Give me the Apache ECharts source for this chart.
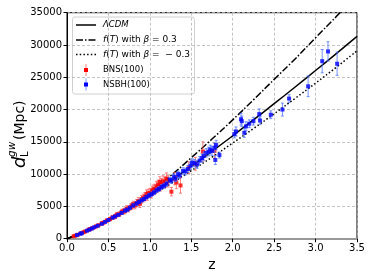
<!DOCTYPE html>
<html><head><meta charset="utf-8">
<script src="https://cdn.jsdelivr.net/npm/echarts@6/dist/echarts.min.js"></script>
<style>html,body{margin:0;padding:0;background:#fff}#c{width:374px;height:280px}</style>
</head><body><div id="c"></div>
<script>
// ---- data ----
const zGrid = [0,0.25,0.5,0.75,1,1.25,1.5,1.75,2,2.25,2.5,2.75,3,3.25,3.5];
const lcdm  = [0,1300,2918,4769,6792,8945,11199,13535,15938,18398,20906,23457,26047,28670,31322];
const betaPos = [0,1310,3005,5000,7270,9750,12540,15430,18400,21500,24670,27800,31130,34400,37900];
const betaNeg = [0,1290,2860,4600,6520,8500,10530,12620,14820,17050,19340,21700,24090,26550,29100];

const bnsZ = [0.08,0.10,0.13,0.17,0.20,0.22,0.26,0.28,0.31,0.35,0.38,0.42,0.44,0.48,0.52,0.55,0.58,0.60,0.63,0.66,0.68,0.70,0.72,0.74,0.77,0.79,0.80,0.82,0.84,0.86,0.88,0.90,0.92,0.94,0.96,0.97,0.98,1.00,1.02,1.03,1.04,1.06,1.08,1.09,1.10,1.12,1.13,1.14,1.16,1.18,1.20,1.22,1.26,1.30,1.32,1.37,1.47,1.55,1.64,1.78];
const bnsD = [380,460,610,850,1010,1120,1380,1500,1650,1900,2080,2380,2480,2800,3050,3300,3420,3700,3800,4150,4230,4300,4650,4600,4950,5100,5300,5150,5500,5800,5400,6100,6300,6500,6900,6600,7000,7100,7000,7400,7600,7700,8100,7900,8300,8800,8200,8500,8900,8700,9300,8900,7280,9300,8700,8250,11000,11600,13500,13600];
const bnsE = [40,50,60,80,90,100,120,130,150,170,190,220,230,260,290,310,330,350,370,400,410,420,450,460,480,500,510,520,540,560,570,600,610,630,650,660,670,690,700,710,720,740,760,770,780,800,810,820,840,860,880,900,650,950,950,1200,900,1000,1500,1200];

const nsbhZ = [0.12,0.16,0.18,0.24,0.27,0.30,0.33,0.37,0.42,0.46,0.50,0.55,0.58,0.62,0.66,0.70,0.73,0.76,0.80,0.84,0.87,0.90,0.93,0.96,0.99,1.02,1.05,1.08,1.11,1.14,1.17,1.20,1.24,1.26,1.29,1.31,1.34,1.36,1.40,1.43,1.46,1.49,1.51,1.54,1.57,1.60,1.63,1.65,1.68,1.71,1.73,1.75,1.78,1.79,1.80,1.84,2.02,2.04,2.10,2.11,2.14,2.16,2.20,2.25,2.32,2.33,2.46,2.60,2.68,2.91,3.08,3.15,3.26];
const nsbhD = [560,760,850,1230,1400,1580,1780,2000,2300,2600,2900,3250,3450,3700,4000,4350,4500,4800,5150,5450,5700,5950,6150,6450,6700,6900,7150,7500,7700,8000,8200,8500,9100,9000,9600,9300,10000,9800,10500,10400,10800,11300,11800,11700,11500,12100,12500,12800,13300,13500,13800,13600,14100,12200,14500,12950,16200,16600,18500,18200,16400,17400,17800,18200,19300,18300,19200,20000,21700,23600,27500,29000,27100];
const nsbhE = [30,40,45,60,70,80,90,100,110,130,150,160,170,180,200,210,220,230,250,260,270,290,300,310,320,330,340,350,370,380,390,400,420,430,450,460,480,490,500,520,540,560,570,580,600,610,620,640,650,670,680,700,720,700,730,450,600,700,900,800,700,700,600,600,800,600,600,1000,600,1600,1800,1500,1800];

const xTicks = [0,0.5,1,1.5,2,2.5,3,3.5];
const yTicks = [0,5000,10000,15000,20000,25000,30000,35000];

// ---- build ----
const pairs = (xs, ys) => xs.map((x,i)=>[x, ys[i]]);
const triples = (xs, ys, es) => xs.map((x,i)=>[x, ys[i], es[i]]);

function errRender(color){
  return function(params, api){
    const x = api.value(0), y = api.value(1), e = api.value(2);
    const t = api.coord([x, y+e]), b = api.coord([x, y-e]);
    const w = 1.5, st = {stroke: color, lineWidth: 1};
    return {type:'group', children:[
      {type:'line', shape:{x1:t[0],y1:t[1],x2:b[0],y2:b[1]}, style:st},
      {type:'line', shape:{x1:t[0]-w,y1:t[1],x2:t[0]+w,y2:t[1]}, style:st},
      {type:'line', shape:{x1:b[0]-w,y1:b[1],x2:b[0]+w,y2:b[1]}, style:st}
    ]};
  };
}

const FONT = 'DejaVu Sans';
const chart = echarts.init(document.getElementById('c'), null, {renderer:'canvas'});
const lx0 = 76, lx1 = 96, tx = 103;
const rows = [25, 40, 54.5, 70, 84.5];
const legFont = 8.5;
const mathFont = 9;
chart.setOption({
  animation: false,
  textStyle: {fontFamily: FONT},
  grid: {left: 67, right: 17, top: 12.7, bottom: 41.3, show: true, borderColor: '#000', borderWidth: 1, backgroundColor: 'transparent'},
  xAxis: {
    type: 'value', min: 0, max: 3.5, interval: 0.5,
    name: 'z', nameLocation: 'middle', nameGap: 17,
    nameTextStyle: {fontSize: 14, color: '#000', fontFamily: FONT},
    axisLine: {show: true, lineStyle: {color: '#9a9a9a', width: 2}},
    axisTick: {show: true, inside: false, length: 3.5, lineStyle: {color: '#000'}},
    axisLabel: {fontSize: 10, color: '#000', margin: 5, fontFamily: FONT,
      formatter: v => xTicks.includes(v) ? v.toFixed(1) : ''},
    splitLine: {show: true, lineStyle: {color: '#b5b5b5', type: [3,2], width: 0.8}}
  },
  yAxis: {
    type: 'value', min: 0, max: 35000, interval: 5000,
    axisLine: {show: true, lineStyle: {color: '#000', width: 1}},
    axisTick: {show: true, inside: false, length: 3.5, lineStyle: {color: '#000'}},
    axisLabel: {fontSize: 10, color: '#000', margin: 5, fontFamily: FONT,
      formatter: v => yTicks.includes(v) ? String(v) : ''},
    splitLine: {show: true, lineStyle: {color: '#b5b5b5', type: [3,2], width: 0.8}}
  },
  series: [
    {type:'line', data: pairs(zGrid, lcdm), smooth: true, symbol:'none', clip: true,
      lineStyle:{color:'#000', width:1.5}, z: 3},
    {type:'line', data: pairs(zGrid, betaPos), smooth: true, symbol:'none', clip: true,
      lineStyle:{color:'#000', width:1.5, type:[7,2,1.5,2]}, z: 3},
    {type:'line', data: pairs(zGrid, betaNeg), smooth: true, symbol:'none', clip: true,
      lineStyle:{color:'#000', width:1.5, type:[1.5,2.2]}, z: 3},
    {type:'custom', data: triples(bnsZ, bnsD, bnsE), renderItem: errRender('rgba(250,90,90,0.75)'),
      encode:{x:0, y:1}, z: 4},
    {type:'scatter', data: pairs(bnsZ, bnsD), symbol:'rect', symbolSize:4,
      itemStyle:{color:'#ff0000'}, z: 5},
    {type:'custom', data: triples(nsbhZ, nsbhD, nsbhE), renderItem: errRender('rgba(70,110,255,0.75)'),
      encode:{x:0, y:1}, z: 6},
    {type:'scatter', data: pairs(nsbhZ, nsbhD), symbol:'rect', symbolSize:4,
      itemStyle:{color:'#0000ff'}, z: 7}
  ],
  graphic: [
    // y-axis title
    {type:'group', x: 20, y: 128, rotation: Math.PI/2, z: 100, children: [
      {type:'text', x:-40, y:0, style:{text:'d', font:'italic 18px "DejaVu Sans"', fill:'#000', verticalAlign:'middle', align:'left'}},
      {type:'text', x:-29, y:5, style:{text:'L', font:'10px "DejaVu Sans"', fill:'#000', verticalAlign:'middle', align:'left'}},
      {type:'text', x:-29, y:-7.5, style:{text:'gw', font:'italic 10.5px "DejaVu Sans"', fill:'#000', verticalAlign:'middle', align:'left'}},
      {type:'text', x:-12, y:0, style:{text:'(Mpc)', font:'14px "DejaVu Sans"', fill:'#000', verticalAlign:'middle', align:'left'}}
    ]},
    // legend
    {type:'group', z: 100, children: [
      {type:'rect', shape:{x:72.5, y:17, width:122, height:77, r:2.5},
        style:{fill:'rgba(255,255,255,0.85)', stroke:'#d0d0d0', lineWidth:1}},
      {type:'line', shape:{x1:lx0,y1:rows[0],x2:lx1,y2:rows[0]}, style:{stroke:'#000', lineWidth:1.5}},
      {type:'line', shape:{x1:lx0,y1:rows[1],x2:lx1,y2:rows[1]}, style:{stroke:'#000', lineWidth:1.5, lineDash:[7,2,1.5,2]}},
      {type:'line', shape:{x1:lx0,y1:rows[2],x2:lx1,y2:rows[2]}, style:{stroke:'#000', lineWidth:1.5, lineDash:[1.5,2.2]}},
      {type:'line', shape:{x1:86,y1:rows[3]-6,x2:86,y2:rows[3]+6}, style:{stroke:'rgba(250,90,90,0.75)', lineWidth:1}},
      {type:'rect', shape:{x:84, y:rows[3]-2, width:4, height:4}, style:{fill:'#ff0000'}},
      {type:'line', shape:{x1:86,y1:rows[4]-6,x2:86,y2:rows[4]+6}, style:{stroke:'rgba(70,110,255,0.75)', lineWidth:1}},
      {type:'rect', shape:{x:84, y:rows[4]-2, width:4, height:4}, style:{fill:'#0000ff'}},
      {type:'text', x:tx, y:rows[0], style:{text:'ΛCDM', font:'italic '+legFont+'px "DejaVu Sans"', fill:'#000', verticalAlign:'middle'}},
      {type:'text', x:tx, y:rows[1], style:{text:'{i|f}({i|T}) with {i|β} = 0.3', fill:'#000', verticalAlign:'middle',
        font: mathFont+'px "DejaVu Sans"', rich:{i:{fontStyle:'italic', fontSize:mathFont, fontFamily:FONT}}}},
      {type:'text', x:tx, y:rows[2], style:{text:'{i|f}({i|T}) with {i|β} =  \u2212 0.3', fill:'#000', verticalAlign:'middle',
        font: mathFont+'px "DejaVu Sans"', rich:{i:{fontStyle:'italic', fontSize:mathFont, fontFamily:FONT}}}},
      {type:'text', x:tx, y:rows[3], style:{text:'BNS(100)', font:legFont+'px "DejaVu Sans"', fill:'#000', verticalAlign:'middle'}},
      {type:'text', x:tx, y:rows[4], style:{text:'NSBH(100)', font:legFont+'px "DejaVu Sans"', fill:'#000', verticalAlign:'middle'}}
    ]}
  ]
});
</script></body></html>
